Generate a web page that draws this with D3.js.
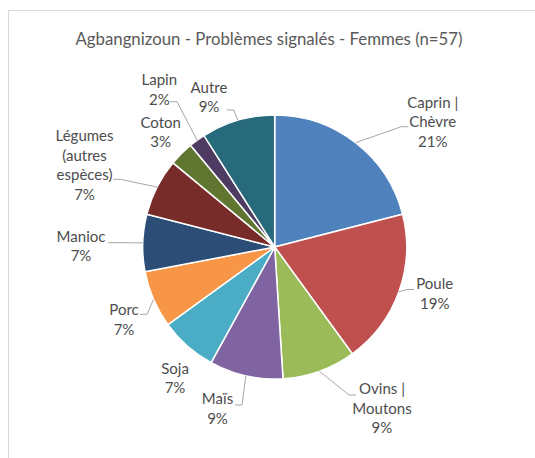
<!DOCTYPE html>
<html>
<head>
<meta charset="utf-8">
<script src="https://cdn.jsdelivr.net/npm/d3@7"></script>
<style>
  body { margin: 0; background: #fff; }
  text { font-family: Lato, "Open Sans", sans-serif; fill: #595959; }
</style>
</head>
<body>
<svg width="535" height="458"></svg>
<script>
var categories = ["Caprin | Chèvre", "Poule", "Ovins | Moutons", "Maïs", "Soja", "Porc",
                  "Manioc", "Légumes (autres espèces)", "Coton", "Lapin", "Autre"];
var values = [21, 19, 9, 9, 7, 7, 7, 7, 3, 2, 9];
var colors = ["#4f81bd", "#c0504d", "#9bbb59", "#8064a2", "#4bacc6", "#f79646",
              "#2c4d75", "#772c2a", "#5f7530", "#4d3b62", "#276a7c"];
// how Excel wrapped each label
var labelLines = [["Caprin |", "Chèvre"], ["Poule"], ["Ovins |", "Moutons"], ["Maïs"], ["Soja"], ["Porc"],
                  ["Manioc"], ["Légumes", "(autres", "espèces)"], ["Coton"], ["Lapin"], ["Autre"]];

var data = categories.map(function (c, i) {
    return { name: c, value: values[i], color: colors[i], lines: labelLines[i].concat([values[i] + "%"]) };
});

var svg = d3.select("svg"),
    cx = 274.7,
    cy = 247,
    radius = 132;

// chart area border (cut off on the right and bottom)
svg.append("rect")
    .attr("x", 8.5).attr("y", 10.5)
    .attr("width", 600).attr("height", 500)
    .attr("fill", "none")
    .attr("stroke", "#d9d9d9");

svg.append("text")
    .attr("x", 269)
    .attr("y", 38)
    .attr("text-anchor", "middle")
    .attr("dominant-baseline", "central")
    .style("font-size", "16.8px")
    .text("Agbangnizoun - Problèmes signalés - Femmes (n=57)");

var pie = d3.pie().sort(null).value(function (d) { return d.value; });
var arc = d3.arc().innerRadius(0).outerRadius(radius);
var rim = d3.arc().innerRadius(radius).outerRadius(radius);

var g = svg.append("g")
    .attr("transform", "translate(" + cx + "," + cy + ")");

var arcs = pie(data);

g.selectAll(".slice")
    .data(arcs)
    .enter().append("path")
    .attr("class", "slice")
    .attr("d", arc)
    .attr("fill", function (d) { return d.data.color; })
    .attr("stroke", "#fff")
    .attr("stroke-width", 1.5);

// label placement (relative to pie centre): text centre x, first line y, leader start
var labelLayout = [
    { x: 158, y: -144.3, lx: 133.6, ly: -120.3 },
    { x: 160, y: 37, lx: 139.3, ly: 42.5 },
    { x: 107.3, y: 142, lx: 81.3, ly: 148 },
    { x: -57.2, y: 152, lx: -39.7, ly: 158 },
    { x: -99.7, y: 121.3 },
    { x: -150.7, y: 63, lx: -134.7, ly: 67.3 },
    { x: -193.7, y: -10.3, lx: -166.4, ly: -4.3 },
    { x: -190.2, y: -111, lx: -161.4, ly: -67.7 },
    { x: -114, y: -124.3 },
    { x: -115.4, y: -167, lx: -104.7, ly: -145.3 },
    { x: -65.7, y: -159.7, lx: -48, ly: -137 }
];

var lineH = 19.5;

g.selectAll(".leader")
    .data(arcs.filter(function (d, i) { return labelLayout[i].lx !== undefined; }))
    .enter().append("polyline")
    .attr("class", "leader")
    .attr("fill", "none")
    .attr("stroke", "#a6a6a6")
    .attr("stroke-width", 1)
    .attr("points", function (d) {
        var p = labelLayout[d.index],
            dir = p.lx > 0 ? -1 : 1,
            end = rim.centroid(d);
        return [[p.lx, p.ly], [p.lx + dir * 7, p.ly], end].join(" ");
    });

var labels = g.selectAll(".label")
    .data(arcs)
    .enter().append("text")
    .attr("class", "label")
    .attr("text-anchor", "middle")
    .style("font-size", "15px")
    .style("fill", "#4d4d4d");

labels.selectAll("tspan")
    .data(function (d) {
        return d.data.lines.map(function (l, j) { return { t: l, j: j, i: d.index }; });
    })
    .enter().append("tspan")
    .attr("x", function (d) { return labelLayout[d.i].x; })
    .attr("y", function (d) { return labelLayout[d.i].y + d.j * lineH; })
    .attr("dy", "0.35em")
    .text(function (d) { return d.t; });
</script>
</body>
</html>
